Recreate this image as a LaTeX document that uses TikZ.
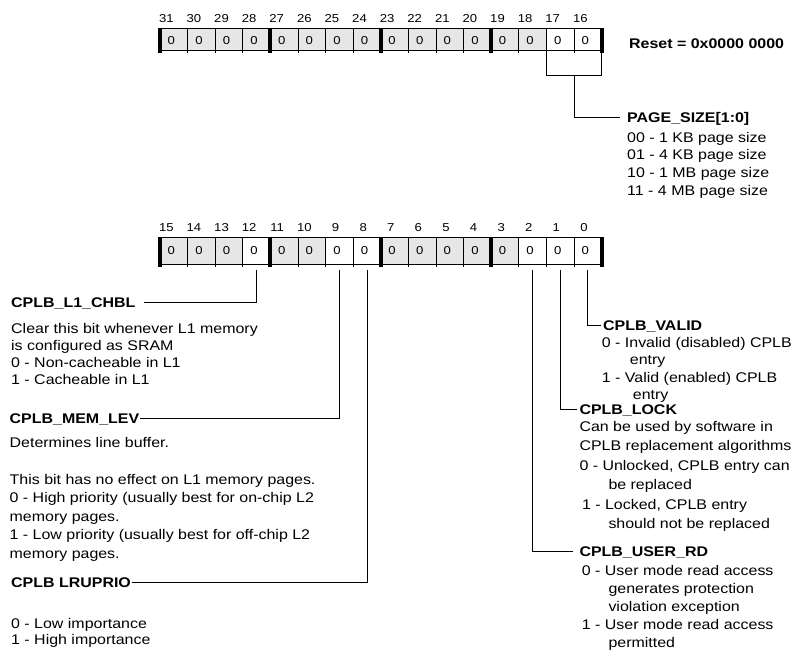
\documentclass[tikz,border=0pt]{standalone}
\usepackage{fontspec}
\setmainfont[FakeStretch=1.14]{Liberation Sans}
\definecolor{cellgray}{HTML}{E6E6E6}
\begin{document}
\begin{tikzpicture}[x=1pt,y=-1pt,
  thinl/.style={line width=0.9pt},
  thickl/.style={line width=4pt},
  conn/.style={line width=1pt},
  bitnum/.style={anchor=base east, inner sep=0pt, font=\fontsize{11.5}{13}\selectfont},
  cellval/.style={anchor=base, inner sep=0pt, font=\fontsize{11.5}{13}\selectfont},
  ttl/.style={anchor=base west, inner sep=0pt, font=\bfseries\fontsize{14}{17}\selectfont, text height=10pt, text depth=0pt},
  desc/.style={anchor=north west, align=left, inner sep=0pt}]
\useasboundingbox (0,0) rectangle (800,651);

% ---------- top register (bits 31..16)
\fill[cellgray] (160,28) rectangle (601.6,50);
\fill[white] (546.4,28) rectangle (601.6,50);
\draw[thinl] (160,28) -- (601.6,28) (160,50) -- (601.6,50);
\foreach \i in {1,2,3,5,6,7,9,10,11,13,14,15}
  \draw[thinl] ({160+\i*27.6},28) -- ({160+\i*27.6},53);
\foreach \i in {0,4,8,12,16}
  \draw[thickl] ({160+\i*27.6},28) -- ({160+\i*27.6},53);
\foreach \i in {0,...,15}{
  \pgfmathtruncatemacro\b{31-\i}
  \node[bitnum] (tn\b) at ({160+(\i+0.5)*27.6},22.5) {\b};
  \node[cellval] (tv\b) at ({160+(\i+0.5)*27.6-2.5},44) {0};
}
\node[ttl] (reset) at (629,48) {Reset = 0x0000 0000};

% bracket for PAGE_SIZE
\coordinate (k17) at (546.4,53);
\coordinate (k16) at (601.6,53);
\coordinate (kl) at (546.4,75);
\coordinate (kr) at (601.6,75);
\coordinate (km) at (574,75);
\draw[conn] (k17) -- (kl) -- (kr) -- (k16);
\node[ttl] (pst) at (627,122) {PAGE\_SIZE[1:0]};
\draw[conn, shorten >=7pt] (km) |- (pst.west);
\node[desc, font=\fontsize{14}{17.6}\selectfont] (psb) at (627,132)
  {00 - 1 KB page size\\01 - 4 KB page size\\10 - 1 MB page size\\11 - 4 MB page size};

% ---------- bottom register (bits 15..0)
\fill[cellgray] (160,237) rectangle (601.6,264);
\foreach \i in {3,6,7,13,14,15}
  \fill[white] ({160+\i*27.6},237) rectangle ({160+(\i+1)*27.6},264);
\draw[thinl] (160,237) -- (601.6,237) (160,264) -- (601.6,264);
\foreach \i in {1,2,3,5,6,7,9,10,11,13,14,15}
  \draw[thinl] ({160+\i*27.6},237) -- ({160+\i*27.6},267);
\foreach \i in {0,4,8,12,16}
  \draw[thickl] ({160+\i*27.6},237) -- ({160+\i*27.6},267);
\foreach \i in {0,...,15}{
  \pgfmathtruncatemacro\b{15-\i}
  \node[bitnum] (bn\b) at ({160+(\i+0.5)*27.6},231.5) {\b};
  \node[cellval] (bv\b) at ({160+(\i+0.5)*27.6-2.5},254.5) {0};
}

\coordinate (c12) at (256.6,270);
\coordinate (c9) at (339.4,270);
\coordinate (c8) at (367,270);
\coordinate (c2) at (532.6,270);
\coordinate (c1) at (560.2,270);
\coordinate (c0) at (587.8,270);

% ---------- left fields
\node[ttl] (chbl) at (11,307.5) {CPLB\_L1\_CHBL};
\draw[conn, shorten >=8pt] (c12) |- (chbl.east);
\node[desc, font=\fontsize{14}{17}\selectfont] (chblb) at (11,322.7)
  {Clear this bit whenever L1 memory\\is configured as SRAM\\0 - Non-cacheable in L1\\1 - Cacheable in L1};

\node[ttl] (memlev) at (9.5,423) {CPLB\_MEM\_LEV};
\draw[conn, shorten >=1pt] (c9) |- (memlev.east);
\node[desc, font=\fontsize{14}{18.5}\selectfont] (memlevb) at (9.5,436.7)
  {Determines line buffer.\\[18.5pt]This bit has no effect on L1 memory pages.\\0 - High priority (usually best for on-chip L2\\memory pages.\\1 - Low priority (usually best for off-chip L2\\memory pages.};

\node[ttl] (lru) at (11,587) {CPLB LRUPRIO};
\draw[conn, shorten >=1pt] (c8) |- (lru.east);
\node[desc, font=\fontsize{14}{16.5}\selectfont] (lrub) at (11,617.7)
  {0 - Low importance\\1 - High importance};

% ---------- right fields
\node[ttl] (valid) at (603,330) {CPLB\_VALID};
\draw[conn, shorten >=2pt] (c0) |- (valid.west);
\node[desc, font=\fontsize{14}{17.5}\selectfont] (validb) at (601.7,336.7)
  {0 - Invalid (disabled) CPLB\\\hspace*{28pt}entry\\1 - Valid (enabled) CPLB\\\hspace*{31pt}entry};

\node[ttl] (lock) at (579.3,414) {CPLB\_LOCK};
\draw[conn, shorten >=2pt] (c1) |- (lock.west);
\node[desc, font=\fontsize{14}{19.5}\selectfont] (lockb) at (579.3,421)
  {Can be used by software in\\CPLB replacement algorithms\\0 - Unlocked, CPLB entry can\\\hspace*{29pt}be replaced\\\hspace*{2.5pt}1 - Locked, CPLB entry\\\hspace*{29pt}should not be replaced};

\node[ttl] (userrd) at (579.3,556) {CPLB\_USER\_RD};
\draw[conn, shorten >=6pt] (c2) |- (userrd.west);
\node[desc, font=\fontsize{14}{18}\selectfont] (userrdb) at (581.7,565)
  {0 - User mode read access\\\hspace*{26.6pt}generates protection\\\hspace*{26.6pt}violation exception\\1 - User mode read access\\\hspace*{26.6pt}permitted};
\end{tikzpicture}
\end{document}
